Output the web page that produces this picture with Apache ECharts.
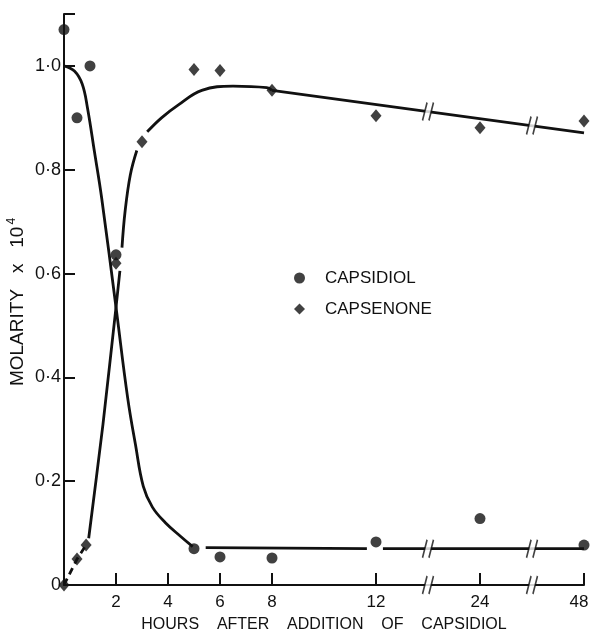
<!DOCTYPE html>
<html>
<head>
<meta charset="utf-8">
<script src="https://cdn.jsdelivr.net/npm/echarts@6/dist/echarts.min.js"></script>
<style>
html,body{margin:0;padding:0;background:#fff;}
#chart{width:592px;height:631px;}
</style>
</head>
<body>
<div id="chart"></div>
<script>
// ---------- data (x in hours, y in molarity x 10^4) ----------
const xTickHours  = [2, 4, 6, 8, 12, 24, 48];
const xTickLabels = ['2', '4', '6', '8', '12', '24', '48'];
const yTickValues = [0, 0.2, 0.4, 0.6, 0.8, 1.0];
const yTickLabels = ['0', '0·2', '0·4', '0·6', '0·8', '1·0'];

const capsidiolPoints = [[0,1.07],[0.5,0.90],[1,1.0],[2,0.636],[5,0.07],[6,0.054],[8,0.052],[12,0.083],[24,0.128],[48,0.077]];
const capsenonePoints = [[0,0],[0.5,0.05],[0.85,0.077],[2,0.62],[3,0.854],[5,0.993],[6,0.991],[8,0.953],[12,0.904],[24,0.881],[48,0.894]];

// hand-drawn fitted curves
const capsidiolCurve = [[0,1.0],[0.4,0.99],[0.7,0.965],[0.9,0.92],[1.17,0.835],[1.45,0.745],[2.0,0.535],[2.45,0.36],[2.75,0.27],[3.05,0.19],[3.4,0.15],[3.9,0.12],[4.5,0.093],[4.95,0.074]];
const capsidiolTailA = [[5.45,0.072],[11.65,0.07]];
const capsidiolTailB = [[12.8,0.07],[48,0.07]];
const capsenoneDashed = [[0,0],[0.5,0.05],[0.85,0.077]];
const capsenoneCurveA = [[0.95,0.09],[1.5,0.31],[2.0,0.535],[2.15,0.605]];
const capsenoneCurveB = [[2.23,0.65],[2.35,0.72],[2.55,0.79],[2.8,0.837]];
const capsenoneCurveC = [[3.2,0.873],[3.75,0.9],[4.4,0.925],[5.3,0.953],[6.5,0.961],[7.8,0.958],[8,0.953]];
const capsenoneLinear = [[8,0.953],[48,0.871]];

// axis-break marks (hours, value)
const breakMarks = [[18,0],[36,0],[18,0.07],[36,0.07],[18,0.912],[36,0.885]];

const yAxisTitle = 'MOLARITY   x   10';
const yAxisTitleSup = '4';

// ---------- broken time scale: 0-12 h linear, 12-24 and 24-48 compressed ----------
function toAxis(h){
  if (h <= 12) return h;
  if (h <= 24) return 12 + (h - 12) / 3;
  return 16 + (h - 24) / 6;
}
const tr = arr => arr.map(p => [toAxis(p[0]), p[1]]);
const xTickPos = xTickHours.map(toAxis);

const FONT = 'Liberation Sans';
const INK = '#111';

function lineSeries(name, data, extra){
  return Object.assign({
    name: name, type: 'line', data: tr(data), symbol: 'none',
    smooth: 0.4,
    lineStyle: {color: INK, width: 2.8}, z: 3, silent: true
  }, extra || {});
}

const chart = echarts.init(document.getElementById('chart'), null, {renderer: 'canvas'});
chart.setOption({
  backgroundColor: '#fff',
  animation: false,
  grid: {left: 64, right: 8, top: 14, bottom: 46, containLabel: false, outerBoundsMode: 'none'},
  graphic: [{
    type: 'text', x: 18, y: 302, rotation: Math.PI / 2, silent: true,
    style: {
      text: yAxisTitle + '{sup|' + yAxisTitleSup + '}',
      fontFamily: FONT, fontSize: 19, fill: INK, lineHeight: 24,
      align: 'center', verticalAlign: 'middle',
      rich: {sup: {fontFamily: FONT, fontSize: 12, fill: INK, verticalAlign: 'top', lineHeight: 24, padding: [0,0,10,2]}}
    }
  }],
  legend: {
    orient: 'vertical', left: 289, top: 263,
    itemWidth: 11, itemHeight: 11, itemGap: 11,
    textStyle: {fontFamily: FONT, fontSize: 17, color: INK, lineHeight: 20, padding: [0,0,0,15]},
    data: [{name: 'CAPSIDIOL', icon: 'circle'}, {name: 'CAPSENONE', icon: 'diamond'}]
  },
  xAxis: {
    type: 'value', min: 0, max: 20,
    name: 'HOURS    AFTER    ADDITION    OF    CAPSIDIOL',
    nameLocation: 'middle', nameGap: 32,
    nameTextStyle: {fontFamily: FONT, fontSize: 16, color: INK},
    axisLine: {lineStyle: {color: INK, width: 2}},
    axisTick: {inside: true, length: 12, lineStyle: {color: INK, width: 2}, customValues: xTickPos},
    axisLabel: {
      customValues: xTickPos, margin: 9,
      fontFamily: FONT, fontSize: 17, color: INK,
      rich: {last: {fontFamily: FONT, fontSize: 17, color: INK, padding: [0, 10, 0, 0]}},
      formatter: v => {
        const i = xTickPos.findIndex(p => Math.abs(p - v) < 1e-6);
        if (i < 0) return '';
        return i === xTickPos.length - 1 ? '{last|' + xTickLabels[i] + '}' : xTickLabels[i];
      }
    },
    splitLine: {show: false}
  },
  yAxis: {
    type: 'value', min: 0, max: 1.1,
    axisLine: {lineStyle: {color: INK, width: 2}},
    axisTick: {inside: true, length: 11, lineStyle: {color: INK, width: 2}, customValues: yTickValues.filter(v => v > 0).concat([1.1])},
    axisLabel: {
      customValues: yTickValues, margin: 3,
      fontFamily: FONT, fontSize: 18, color: INK,
      formatter: v => { const i = yTickValues.findIndex(p => Math.abs(p - v) < 1e-6); return i >= 0 ? yTickLabels[i] : ''; }
    },
    splitLine: {show: false}
  },
  series: [
    lineSeries('c1', capsidiolCurve),
    lineSeries('c2', capsidiolTailA, {smooth: false}),
    lineSeries('c3', capsidiolTailB, {smooth: false}),
    lineSeries('n0', capsenoneDashed, {smooth: false, lineStyle: {color: INK, width: 2.8, type: [7, 5]}}),
    lineSeries('n1', capsenoneCurveA, {smooth: 0.2}),
    lineSeries('n2', capsenoneCurveB),
    lineSeries('n3', capsenoneCurveC),
    lineSeries('n4', capsenoneLinear, {smooth: false}),
    {
      name: 'eraser', type: 'scatter', data: tr(breakMarks), symbol: 'rect', symbolSize: [6, 7],
      itemStyle: {color: '#fff'}, z: 6, silent: true
    },
    {
      name: 'breaks', type: 'scatter', data: tr(breakMarks),
      symbol: 'path://M0,18 L5,0 M7,18 L12,0', symbolSize: [11, 18],
      itemStyle: {color: 'rgba(0,0,0,0)', borderColor: INK, borderWidth: 2}, z: 7, silent: true
    },
    {
      name: 'CAPSIDIOL', type: 'scatter', data: tr(capsidiolPoints), symbol: 'circle', symbolSize: 11,
      itemStyle: {color: INK}, z: 8
    },
    {
      name: 'CAPSENONE', type: 'scatter', data: tr(capsenonePoints), symbol: 'diamond', symbolSize: [11, 13],
      itemStyle: {color: INK}, z: 8
    }
  ]
});
</script>
</body>
</html>
